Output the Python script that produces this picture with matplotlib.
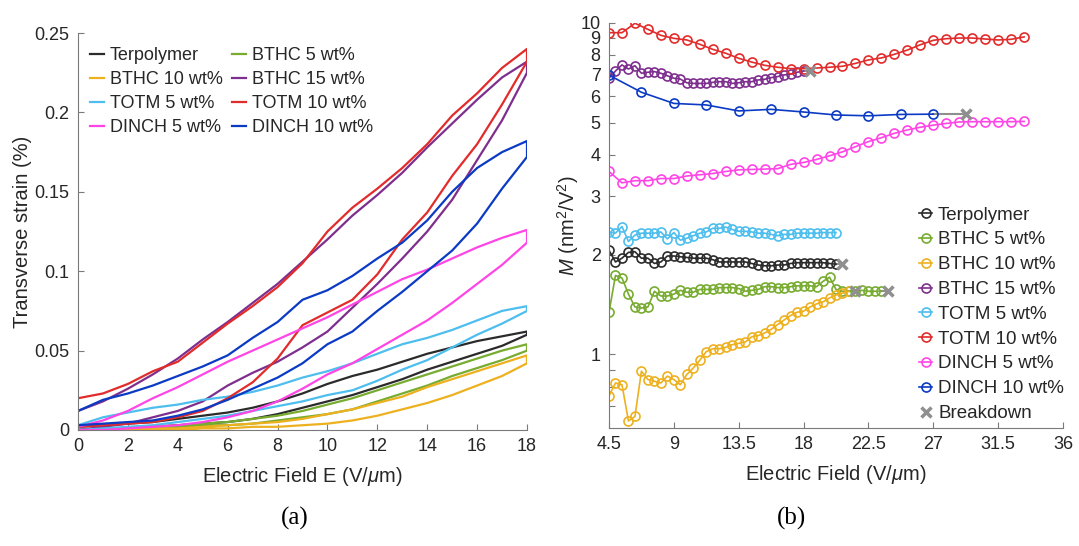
import numpy as np
import matplotlib.pyplot as plt
from matplotlib.lines import Line2D

plt.rcParams["font.family"] = ["Liberation Sans", "DejaVu Sans"]
plt.rcParams["mathtext.fontset"] = "custom"
plt.rcParams["mathtext.rm"] = "Liberation Sans"
plt.rcParams["mathtext.it"] = "Liberation Sans:italic"

names = ["Terpolymer", "BTHC 5 wt%", "BTHC 10 wt%", "BTHC 15 wt%",
         "TOTM 5 wt%", "TOTM 10 wt%", "DINCH 5 wt%", "DINCH 10 wt%"]
colors = ["#2b2b2b", "#77ac30", "#edb120", "#7e2f8e",
          "#4dbeee", "#e22b2b", "#ff45e6", "#0b3bc4"]

# (a) strain loops, read every 1 V/um: rising branch / falling branch
field = [0, 1, 2, 3, 4, 5, 6, 7, 8, 9, 10, 11, 12, 13, 14, 15, 16, 17, 18]
terp_up = [0, 0.001, 0.001, 0.002, 0.003, 0.004, 0.005, 0.007, 0.010, 0.014,
           0.018, 0.022, 0.027, 0.032, 0.038, 0.043, 0.048, 0.053, 0.060]
terp_down = [0.002, 0.003, 0.004, 0.005, 0.007, 0.009, 0.011, 0.014, 0.018, 0.023,
             0.029, 0.034, 0.038, 0.043, 0.048, 0.052, 0.056, 0.059, 0.062]
bthc5_up = [0, 0, 0.001, 0.001, 0.002, 0.003, 0.003, 0.004, 0.006, 0.008,
            0.010, 0.013, 0.018, 0.023, 0.028, 0.034, 0.039, 0.044, 0.050]
bthc5_down = [0, 0.001, 0.001, 0.002, 0.003, 0.004, 0.005, 0.007, 0.009, 0.012,
              0.016, 0.020, 0.025, 0.030, 0.035, 0.040, 0.045, 0.050, 0.054]
bthc10_up = [0, 0, 0, 0, 0, 0.001, 0.001, 0.002, 0.002, 0.003,
             0.004, 0.006, 0.009, 0.013, 0.017, 0.022, 0.028, 0.034, 0.042]
bthc10_down = [0, 0, 0, 0.001, 0.001, 0.002, 0.003, 0.004, 0.005, 0.007,
               0.010, 0.013, 0.017, 0.021, 0.027, 0.032, 0.037, 0.042, 0.047]
bthc15_up = [0, 0.002, 0.004, 0.008, 0.012, 0.018, 0.028, 0.036, 0.043, 0.052,
             0.062, 0.077, 0.092, 0.108, 0.125, 0.145, 0.170, 0.195, 0.225]
bthc15_down = [0.012, 0.018, 0.026, 0.035, 0.045, 0.057, 0.068, 0.080, 0.092, 0.106,
               0.120, 0.135, 0.148, 0.162, 0.178, 0.193, 0.208, 0.222, 0.232]
totm5_up = [0, 0.001, 0.002, 0.003, 0.005, 0.007, 0.009, 0.012, 0.015, 0.018,
            0.022, 0.025, 0.031, 0.038, 0.044, 0.052, 0.060, 0.067, 0.075]
totm5_down = [0.003, 0.008, 0.011, 0.014, 0.016, 0.019, 0.021, 0.024, 0.028, 0.033,
              0.037, 0.042, 0.048, 0.054, 0.058, 0.063, 0.069, 0.075, 0.078]
totm10_up = [0.002, 0.003, 0.004, 0.005, 0.008, 0.012, 0.020, 0.030, 0.045, 0.066,
             0.074, 0.082, 0.098, 0.120, 0.137, 0.160, 0.180, 0.205, 0.232]
totm10_down = [0.020, 0.023, 0.029, 0.037, 0.043, 0.055, 0.067, 0.078, 0.090, 0.105,
               0.125, 0.140, 0.152, 0.165, 0.180, 0.198, 0.212, 0.228, 0.240]
dinch5_up = [0, 0, 0.001, 0.002, 0.003, 0.005, 0.008, 0.012, 0.018, 0.026,
             0.035, 0.042, 0.051, 0.060, 0.069, 0.080, 0.092, 0.104, 0.118]
dinch5_down = [0.002, 0.006, 0.012, 0.020, 0.027, 0.035, 0.043, 0.050, 0.057, 0.064,
               0.071, 0.079, 0.087, 0.095, 0.101, 0.108, 0.115, 0.121, 0.126]
dinch10_up = [0.003, 0.004, 0.005, 0.006, 0.009, 0.013, 0.019, 0.026, 0.033, 0.042,
              0.054, 0.062, 0.075, 0.087, 0.100, 0.113, 0.130, 0.152, 0.172]
dinch10_down = [0.012, 0.019, 0.023, 0.028, 0.034, 0.040, 0.047, 0.058, 0.068, 0.082,
                0.088, 0.097, 0.108, 0.118, 0.132, 0.150, 0.165, 0.175, 0.182]

loops = [(terp_up, terp_down), (bthc5_up, bthc5_down), (bthc10_up, bthc10_down),
         (bthc15_up, bthc15_down), (totm5_up, totm5_down), (totm10_up, totm10_down),
         (dinch5_up, dinch5_down), (dinch10_up, dinch10_down)]

# (b) M coefficient vs field
field_fine = [4.5, 4.95, 5.4, 5.85, 6.3, 6.75, 7.2, 7.65, 8.1, 8.55, 9.0, 9.45, 9.9,
              10.35, 10.8, 11.25, 11.7, 12.15, 12.6, 13.05, 13.5, 13.95, 14.4, 14.85,
              15.3, 15.75, 16.2, 16.65, 17.1, 17.55, 18.0, 18.45, 18.9, 19.35, 19.8,
              20.25, 20.7, 21.15, 21.6, 22.05, 22.5, 22.95, 23.4]
field_coarse = [4.5, 5.4, 6.3, 7.2, 8.1, 9.0, 9.9, 10.8, 11.7, 12.6, 13.5, 14.4, 15.3,
                16.2, 17.1, 18.0, 18.9, 19.8, 20.7, 21.6, 22.5, 23.4, 24.3, 25.2, 26.1,
                27.0, 27.9, 28.8, 29.7, 30.6, 31.5, 32.4, 33.3]
field_wide = [4.5, 6.75, 9.0, 11.25, 13.5, 15.75, 18.0, 20.25, 22.5, 24.75, 27.0]

m_terp = [2.06, 1.90, 1.95, 2.03, 2.04, 1.95, 1.95, 1.88, 1.90, 1.98, 1.98, 1.97,
          1.96, 1.95, 1.95, 1.95, 1.93, 1.90, 1.90, 1.90, 1.90, 1.90, 1.88, 1.86,
          1.85, 1.85, 1.86, 1.86, 1.88, 1.89, 1.89, 1.89, 1.89, 1.89, 1.88, 1.87]
m_bthc5 = [1.34, 1.73, 1.70, 1.52, 1.39, 1.38, 1.39, 1.55, 1.50, 1.50, 1.52, 1.56,
           1.54, 1.54, 1.57, 1.57, 1.57, 1.59, 1.59, 1.59, 1.58, 1.55, 1.56, 1.57,
           1.60, 1.60, 1.59, 1.59, 1.60, 1.61, 1.61, 1.61, 1.60, 1.66, 1.71, 1.57,
           1.55, 1.55, 1.55, 1.56, 1.55, 1.55, 1.55]
m_bthc10 = [0.75, 0.82, 0.81, 0.63, 0.65, 0.89, 0.84, 0.83, 0.82, 0.86, 0.84, 0.81,
            0.87, 0.91, 0.96, 1.02, 1.04, 1.04, 1.05, 1.07, 1.08, 1.09, 1.13, 1.14,
            1.16, 1.19, 1.23, 1.27, 1.31, 1.34, 1.35, 1.39, 1.42, 1.44, 1.48, 1.51,
            1.53, 1.55]
m_bthc15 = [6.80, 7.15, 7.46, 7.25, 7.42, 7.04, 7.09, 7.12, 7.04, 6.92, 6.80, 6.76,
            6.59, 6.56, 6.56, 6.56, 6.61, 6.64, 6.64, 6.56, 6.59, 6.64, 6.64, 6.72,
            6.75, 6.83, 6.88, 6.96, 7.00, 7.09, 7.15]
m_totm5 = [2.34, 2.32, 2.43, 2.19, 2.29, 2.32, 2.32, 2.32, 2.34, 2.23, 2.33, 2.21,
           2.24, 2.28, 2.32, 2.34, 2.40, 2.40, 2.42, 2.38, 2.35, 2.35, 2.34, 2.32,
           2.32, 2.30, 2.28, 2.30, 2.30, 2.32, 2.32, 2.32, 2.32, 2.33, 2.33, 2.33]
m_totm10 = [9.33, 9.33, 9.96, 9.55, 9.16, 8.97, 8.87, 8.61, 8.31, 8.09, 7.81, 7.61,
            7.44, 7.34, 7.27, 7.27, 7.30, 7.34, 7.39, 7.54, 7.72, 7.83, 8.03, 8.27,
            8.58, 8.85, 8.95, 8.99, 8.99, 8.93, 8.87, 8.91, 9.06]
m_dinch5 = [3.56, 3.29, 3.34, 3.34, 3.39, 3.39, 3.45, 3.48, 3.51, 3.56, 3.60, 3.61,
            3.62, 3.63, 3.74, 3.79, 3.87, 3.97, 4.08, 4.23, 4.38, 4.50, 4.64, 4.75,
            4.84, 4.91, 4.97, 5.02, 5.03, 5.03, 5.03, 5.03, 5.04]
m_dinch10 = [6.95, 6.17, 5.71, 5.65, 5.42, 5.48, 5.38, 5.27, 5.24, 5.29, 5.30]

m_series = [(field_fine, m_terp), (field_fine, m_bthc5), (field_fine, m_bthc10),
            (field_fine, m_bthc15), (field_fine, m_totm5), (field_coarse, m_totm10),
            (field_coarse, m_dinch5), (field_wide, m_dinch10)]

# breakdown points (field, M) for the samples that broke down
bd_names = ["Terpolymer", "BTHC 5 wt%", "BTHC 10 wt%", "BTHC 15 wt%", "DINCH 10 wt%"]
bd_field = [20.7, 23.85, 21.6, 18.45, 29.25]
bd_m = [1.87, 1.55, 1.55, 7.15, 5.30]

text_c = "#262626"
axis_c = "#7a7a7a"
gray = "#8f8f8f"

fig = plt.figure(figsize=(10.79, 5.46), dpi=100)
ax1 = fig.add_axes([78 / 1079, 1 - 430 / 546, 449 / 1079, 397 / 546])
ax2 = fig.add_axes([609 / 1079, 1 - 428 / 546, 454 / 1079, 405.3 / 546])

for ax in (ax1, ax2):
    for s in ("top", "right"):
        ax.spines[s].set_visible(False)
    for s in ("left", "bottom"):
        ax.spines[s].set_color(axis_c)
    ax.tick_params(direction="in", length=4, color=axis_c, labelcolor=text_c,
                   labelsize=13, pad=6)
    ax.tick_params(which="minor", length=0)

# ---- (a)
for (up, down), c, n in zip(loops, colors, names):
    ax1.plot(field + field[::-1], up + down[::-1], color=c, lw=1.6, label=n)
ax1.set_xlim(0, 18)
ax1.set_ylim(0, 0.25)
ax1.set_xticks([0, 2, 4, 6, 8, 10, 12, 14, 16, 18])
ax1.set_yticks([0, 0.05, 0.1, 0.15, 0.2, 0.25])
ax1.set_yticklabels(["0", "0.05", "0.1", "0.15", "0.2", "0.25"])
ax1.set_xlabel(r"Electric Field E (V/$\mu$m)", fontsize=14.5, color=text_c,
               labelpad=7)
ax1.set_ylabel("Transverse strain (%)", fontsize=14.5, color=text_c, labelpad=1.5)
h, l = ax1.get_legend_handles_labels()
order = [0, 2, 4, 6, 1, 3, 5, 7]
ax1.legend([h[i] for i in order], [l[i] for i in order], ncol=2, frameon=False,
           loc="upper left", bbox_to_anchor=(90 / 1079, 1 - 47 / 546),
           bbox_transform=fig.transFigure, borderaxespad=0, borderpad=0,
           fontsize=13, handlelength=0.78, handletextpad=0.3, columnspacing=0.55,
           labelspacing=0.39, labelcolor=text_c)

# ---- (b)
for (x, m), c, n in zip(m_series, colors, names):
    ax2.plot(x[:len(m)], m, color=c, lw=1.2, marker="o", ms=6.5, mfc="none",
             mew=1.2, label=n)
for n, bx, bm in zip(bd_names, bd_field, bd_m):
    x, m = m_series[names.index(n)]
    ax2.plot([x[len(m) - 1], bx], [m[-1], bm], color=gray, lw=1.5, zorder=1)
ax2.plot(bd_field, bd_m, ls="none", marker="x", color=gray, ms=7, mew=2.5)
ax2.set_yscale("log")
ax2.set_xlim(4.5, 36)
ax2.set_ylim(0.6, 10)
ax2.set_xticks([4.5, 9, 13.5, 18, 22.5, 27, 31.5, 36])
ax2.set_xticklabels(["4.5", "9", "13.5", "18", "22.5", "27", "31.5", "36"])
ax2.set_yticks([0.7, 0.8, 0.9, 1, 2, 3, 4, 5, 6, 7, 8, 9, 10])
ax2.set_yticklabels(["", "", "", "1", "2", "3", "4", "5", "6", "7", "8", "9", "10"])
ax2.set_xlabel(r"Electric Field (V/$\mu$m)", fontsize=14.5, color=text_c,
               labelpad=7)
ax2.set_ylabel(r"$M$ (nm$^2$/V$^2$)", fontsize=14.5, color=text_c, labelpad=0)

h2 = [Line2D([], [], color=c, lw=1.2, marker="o", ms=6.5, mfc="none", mew=1.2)
      for c in colors]
h2.append(Line2D([], [], ls="none", marker="x", color=gray, ms=7, mew=2.5))
ax2.legend(h2, names + ["Breakdown"], frameon=False, loc="upper left",
           bbox_to_anchor=(919 / 1079, 1 - 206.5 / 546), bbox_transform=fig.transFigure,
           borderaxespad=0, borderpad=0, fontsize=13.5, handlelength=0.7,
           handletextpad=0.32, labelspacing=0.41, labelcolor=text_c)

fig.text(295 / 1079, 1 - 518 / 546, "(a)", ha="center", va="center",
         family="Liberation Serif", fontsize=18)
fig.text(792 / 1079, 1 - 518 / 546, "(b)", ha="center", va="center",
         family="Liberation Serif", fontsize=18)

fig.savefig("out.png", dpi=100)
